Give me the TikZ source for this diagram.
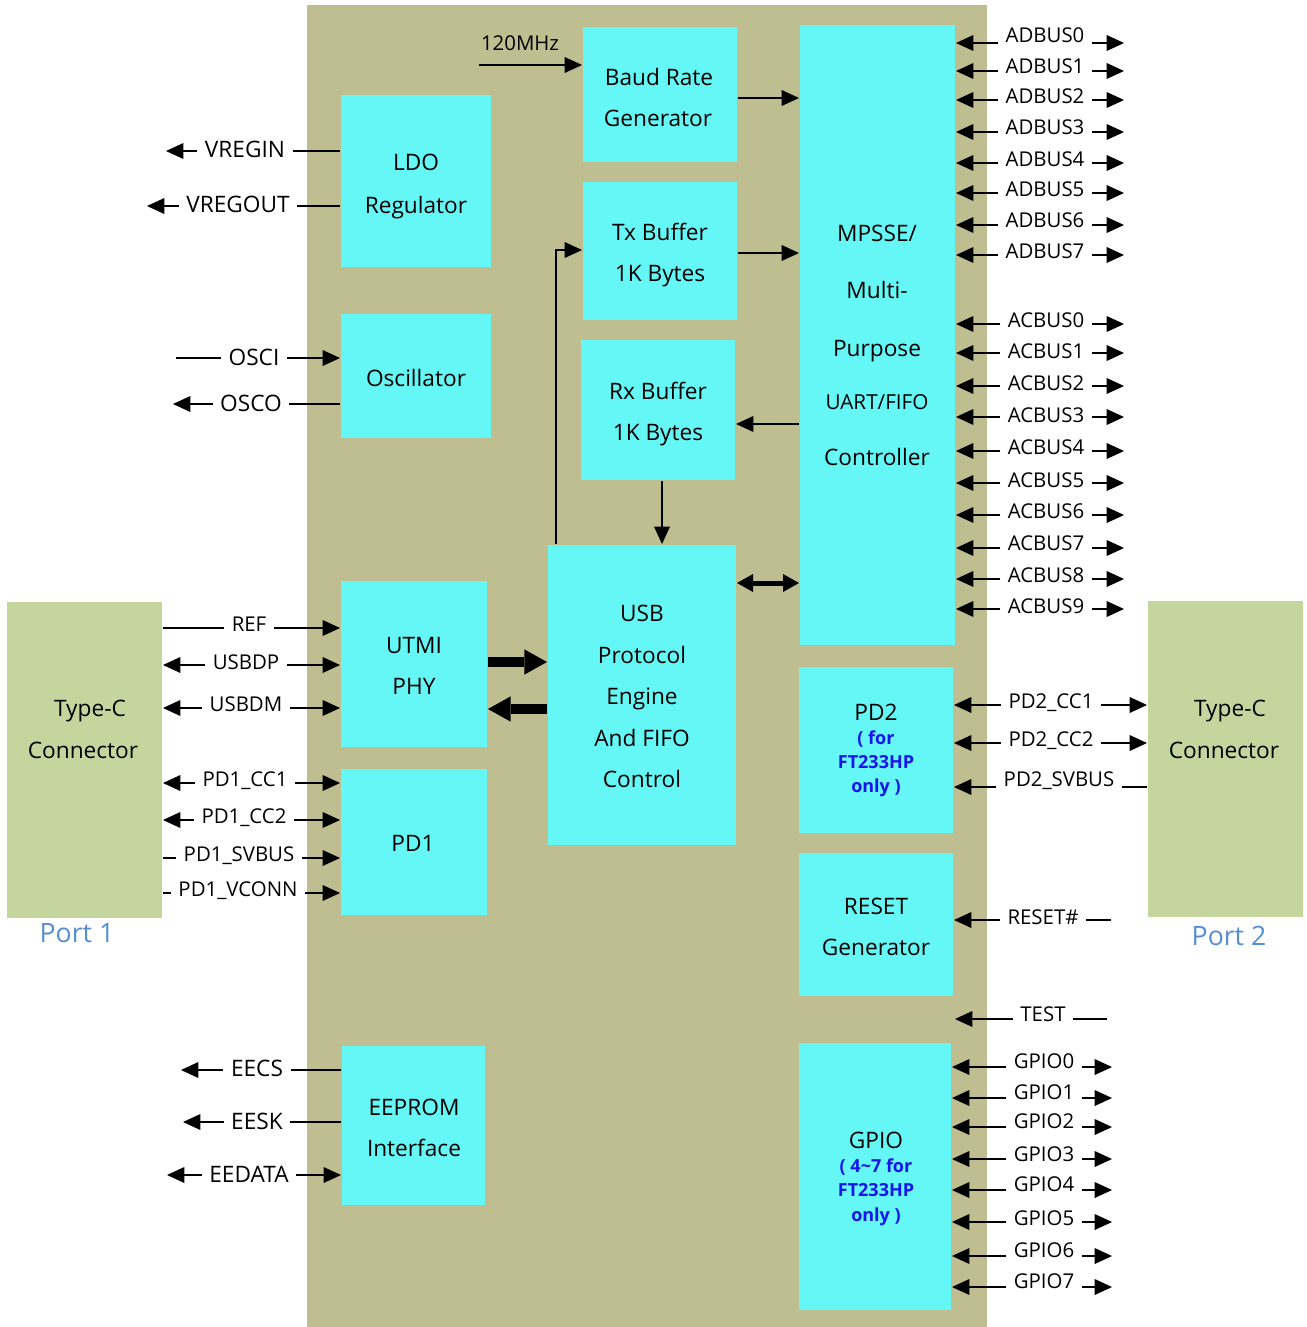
\documentclass[tikz,border=0pt]{standalone}
\usepackage{fontspec}
\setmainfont{Open Sans}
\usetikzlibrary{arrows.meta,fit}
\definecolor{chip}{RGB}{190,190,145}
\definecolor{cy}{RGB}{100,247,245}
\definecolor{tc}{RGB}{196,214,158}
\definecolor{portc}{RGB}{85,142,213}
\definecolor{bluet}{RGB}{20,20,235}
\newcommand\pinrow[9]{%
  \node[#3] (#1) at (#4) {#2};
  \coordinate (#1-y) at (0,#5);
  \draw[#6] (#1.west |- #1-y) -- (#7 |- #1-y) coordinate (#1-a);
  \draw[#8] (#1.east |- #1-y) -- (#9 |- #1-y) coordinate (#1-b);
}
\begin{document}
\begin{tikzpicture}[x=0.75pt,y=-0.75pt,line width=1.5pt,
  blk/.style={fill=cy,inner sep=0pt,draw=none},
  conn/.style={fill=tc,inner sep=0pt,draw=none},
  bt/.style={font=\fontsize{17}{20}\selectfont,text height=12.1pt,text depth=0pt,inner sep=0pt},
  bts/.style={font=\fontsize{15.5}{18}\selectfont,text height=11pt,text depth=0pt,inner sep=0pt},
  btb/.style={font=\fontsize{13.5}{16}\selectfont\bfseries,text=bluet,text height=9.6pt,text depth=0pt,inner sep=0pt},
  pinS/.style={font=\fontsize{15.3}{18}\selectfont,text height=10.9pt,text depth=0pt,inner xsep=5pt,inner ysep=0pt},
  pinL/.style={font=\fontsize{17}{20}\selectfont,text height=12.1pt,text depth=0pt,inner xsep=5pt,inner ysep=0pt},
  portlbl/.style={font=\fontsize{20}{24}\selectfont,text=portc,text height=14.3pt,text depth=0pt,inner sep=0pt},
  ar/.style={-{Triangle[length=13pt,width=12pt,line width=0pt]}},
  thk/.style={line width=7.5pt,-{Triangle[length=17pt,width=19pt,line width=0pt]}},
  dbl/.style={line width=3.75pt,{Triangle[length=12pt,width=13.5pt,line width=0pt]}-{Triangle[length=12pt,width=13.5pt,line width=0pt]}}
]
\useasboundingbox (0,0) rectangle (1306,1327);
% chip background
\node[fill=chip,inner sep=0pt,fit={(307,5) (987,1327)}] (chip) {};
% Type-C connectors
\node[conn,fit={(7,602) (162,918)}] (tcl) {};
\node[conn,fit={(1148,601) (1303,917)}] (tcr) {};
% blocks
\node[blk,fit={(341,95) (491,267)}] (ldo) {};
\node[blk,fit={(341,314) (491,438)}] (osc) {};
\node[blk,fit={(583,27) (737,162)}] (baud) {};
\node[blk,fit={(583,182) (737,320)}] (tx) {};
\node[blk,fit={(581,340) (735,480)}] (rx) {};
\node[blk,fit={(800,25) (955,645)}] (mpsse) {};
\node[blk,fit={(548,545) (736,845)}] (usb) {};
\node[blk,fit={(341,581) (487,747)}] (utmi) {};
\node[blk,fit={(341,769) (487,915)}] (pd1) {};
\node[blk,fit={(342,1046) (485,1205)}] (eeprom) {};
\node[blk,fit={(799,667) (953,833)}] (pd2) {};
\node[blk,fit={(799,853) (953,996)}] (reset) {};
\node[blk,fit={(799,1043) (951,1310)}] (gpio) {};
% block texts
\node[bt] (tldo1) at (416,162) {LDO};
\node[bt] (tldo2) at (416,205) {Regulator};
\node[bt] (tosc) at (416,378) {Oscillator};
\node[bt] (tbaud1) at (659,77) {Baud Rate};
\node[bt] (tbaud2) at (658,118) {Generator};
\node[bt] (ttx1) at (660,232) {Tx Buffer};
\node[bt] (ttx2) at (660,273) {1K Bytes};
\node[bt] (trx1) at (658,391) {Rx Buffer};
\node[bt] (trx2) at (658,432) {1K Bytes};
\node[bt] (tm1) at (877,233) {MPSSE/};
\node[bt] (tm2) at (877,290) {Multi-};
\node[bt] (tm3) at (877,348) {Purpose};
\node[bts] (tm4) at (877,402) {UART/FIFO};
\node[bt] (tm5) at (877,457) {Controller};
\node[bt] (tu1) at (642,613) {USB};
\node[bt] (tu2) at (642,655) {Protocol};
\node[bt] (tu3) at (642,696) {Engine};
\node[bt] (tu4) at (642,738) {And FIFO};
\node[bt] (tu5) at (642,779) {Control};
\node[bt] (tutmi1) at (414,645) {UTMI};
\node[bt] (tutmi2) at (414,686) {PHY};
\node[bt] (tpd1) at (413,843) {PD1};
\node[bt] (tpd2) at (876,712) {PD2};
\node[btb] (tpd2a) at (876,738) {( for};
\node[btb] (tpd2b) at (876,762) {FT233HP};
\node[btb] (tpd2c) at (876,786) {only )};
\node[bt] (treset1) at (876,906) {RESET};
\node[bt] (treset2) at (876,947) {Generator};
\node[bt] (tgpio) at (876,1140) {GPIO};
\node[btb] (tgpioa) at (876,1166) {( 4\textasciitilde 7 for};
\node[btb] (tgpiob) at (876,1190) {FT233HP};
\node[btb] (tgpioc) at (876,1215) {only )};
\node[bt] (tee1) at (414,1107) {EEPROM};
\node[bt] (tee2) at (414,1148) {Interface};
\node[bt] (ttcl1) at (90,708) {Type-C};
\node[bt] (ttcl2) at (83,750) {Connector};
\node[bt] (ttcr1) at (1230,708) {Type-C};
\node[bt] (ttcr2) at (1224,750) {Connector};
\node[portlbl] (port1) at (77,933) {Port 1};
\node[portlbl] (port2) at (1229,936) {Port 2};
% internal connectors
\node[pinS] (mhz) at (520,43) {120MHz};
\coordinate (mhzin) at (479,65);
\draw[ar] (mhzin) -- (mhzin -| baud.west);
\draw[ar] (baud.east |- 0,98) -- (mpsse.west |- 0,98);
\draw[ar] (tx.east |- 0,253) -- (mpsse.west |- 0,253);
\draw[ar] (usb.north -| 556,0) |- (tx.west |- 0,250);
\draw[ar] (mpsse.west |- 0,424) -- (rx.east |- 0,424);
\draw[ar] (rx.south -| 662,0) -- (usb.north -| 662,0);
\draw[dbl] (usb.east |- 0,583) -- (mpsse.west |- 0,583);
\draw[thk] (utmi.east |- 0,662) -- (usb.west |- 0,662);
\draw[thk] (usb.west |- 0,709) -- (utmi.east |- 0,709);
% left top pins
\pinrow{vregin}{VREGIN}{pinL}{245,149}{151}{ar}{166,0}{}{ldo.west}
\pinrow{vregout}{VREGOUT}{pinL}{238,204}{206}{ar}{147,0}{}{ldo.west}
\pinrow{osci}{OSCI}{pinL}{254,357}{358}{}{176,0}{ar}{osc.west}
\pinrow{osco}{OSCO}{pinL}{251,403}{404}{ar}{173,0}{}{osc.west}
% USB / PD1 pins
\pinrow{ref}{REF}{pinS}{249,624}{628}{}{tcl.east}{ar}{utmi.west}
\pinrow{usbdp}{USBDP}{pinS}{246,662}{665}{ar}{tcl.east}{ar}{utmi.west}
\pinrow{usbdm}{USBDM}{pinS}{246,704}{708}{ar}{tcl.east}{ar}{utmi.west}
\pinrow{pdcca}{PD1\_CC1}{pinS}{245,779}{783}{ar}{tcl.east}{ar}{pd1.west}
\pinrow{pdccb}{PD1\_CC2}{pinS}{244,816}{820}{ar}{tcl.east}{ar}{pd1.west}
\pinrow{pdsv}{PD1\_SVBUS}{pinS}{239,854}{858}{}{tcl.east}{ar}{pd1.west}
\pinrow{pdvc}{PD1\_VCONN}{pinS}{238,889}{893}{}{tcl.east}{ar}{pd1.west}
% EEPROM pins
\pinrow{eecs}{EECS}{pinL}{257,1068}{1070}{ar}{181,0}{}{eeprom.west}
\pinrow{eesk}{EESK}{pinL}{257,1121}{1122}{ar}{183,0}{}{eeprom.west}
\pinrow{eedata}{EEDATA}{pinL}{249,1174}{1175}{ar}{167,0}{ar}{eeprom.west}
% ADBUS
\foreach \i/\ty/\ly in {0/35/43,1/66/71,2/96/100,3/127/132,4/159/163,5/189/193,6/220/225,7/251/255}{
  \pinrow{ad\i}{ADBUS\i}{pinS}{1045,\ty}{\ly}{ar}{mpsse.east}{ar}{1124,0}
}
% ACBUS
\foreach \i/\ty/\ly in {0/320/324,1/351/353,2/383/386,3/415/417,4/447/451,5/480/483,6/511/515,7/543/548,8/575/579,9/606/609}{
  \pinrow{ac\i}{ACBUS\i}{pinS}{1046,\ty}{\ly}{ar}{mpsse.east}{ar}{1124,0}
}
% PD2 pins
\pinrow{pdtca}{PD2\_CC1}{pinS}{1051,701}{705}{ar}{pd2.east}{ar}{tcr.west}
\pinrow{pdtcb}{PD2\_CC2}{pinS}{1051,739}{743}{ar}{pd2.east}{ar}{tcr.west}
\pinrow{pdtsv}{PD2\_SVBUS}{pinS}{1059,779}{787}{ar}{pd2.east}{}{tcr.west}
% RESET, TEST
\pinrow{rst}{RESET\#}{pinS}{1043,917}{920}{ar}{reset.east}{}{1111,0}
\pinrow{test}{TEST}{pinS}{1043,1014}{1019}{ar}{955,0}{}{1107,0}
% GPIO
\foreach \i/\ty/\ly in {0/1061/1067,1/1092/1098,2/1121/1127,3/1154/1159,4/1184/1190,5/1218/1222,6/1250/1256,7/1281/1287}{
  \pinrow{gp\i}{GPIO\i}{pinS}{1044,\ty}{\ly}{ar}{gpio.east}{ar}{1112,0}
}
\end{tikzpicture}
\end{document}
